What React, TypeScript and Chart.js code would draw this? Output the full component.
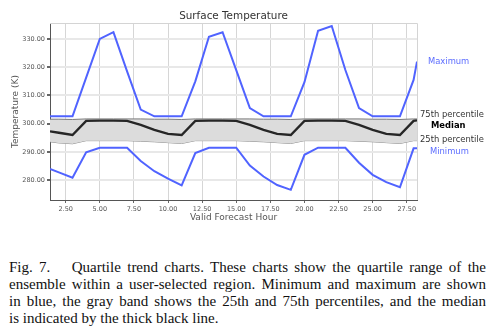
import React, { useEffect, useRef } from "react";
import { Chart, registerables } from "chart.js";
Chart.register(...registerables);

const hours = [1.35, 2, 3, 4, 5, 6, 7, 8, 9, 10, 11, 12, 13, 14, 15, 16, 17, 18, 19, 20, 21, 22, 23, 24, 25, 26, 27, 28, 28.25];
const maxT = [302.6, 302.6, 302.6, 316.3, 330.0, 332.4, 318.5, 305.0, 302.6, 302.6, 302.6, 315.0, 330.8, 332.4, 319.0, 305.5, 302.6, 302.6, 302.6, 314.7, 332.9, 334.6, 319.0, 305.5, 302.6, 302.6, 302.6, 315.5, 322.0];
const p75 = [301.6, 301.6, 301.5, 301.7, 301.7, 301.7, 301.7, 301.7, 301.6, 301.6, 301.5, 301.7, 301.7, 301.7, 301.7, 301.7, 301.6, 301.6, 301.5, 301.7, 301.7, 301.7, 301.7, 301.7, 301.6, 301.6, 301.5, 301.7, 301.7];
const median = [297.3, 296.8, 296.0, 301.0, 301.1, 301.1, 301.0, 299.6, 297.8, 296.4, 296.0, 301.0, 301.1, 301.1, 301.0, 299.6, 297.8, 296.4, 296.0, 301.0, 301.1, 301.1, 301.0, 299.6, 297.8, 296.4, 296.0, 301.0, 301.2];
const p25 = [293.6, 293.2, 292.9, 294.0, 294.0, 294.0, 294.0, 293.8, 293.6, 293.3, 293.0, 294.0, 294.0, 294.0, 294.0, 293.8, 293.6, 293.3, 293.0, 294.0, 294.0, 294.0, 294.0, 293.8, 293.6, 293.3, 293.0, 294.0, 294.0];
const minT = [284.0, 282.8, 280.9, 289.9, 291.5, 291.5, 291.5, 286.8, 283.2, 280.6, 278.2, 289.6, 291.5, 291.5, 291.5, 285.2, 281.3, 278.3, 276.6, 289.0, 291.5, 291.5, 291.5, 286.2, 281.9, 279.3, 277.5, 291.3, 291.3];

const xTicks = [2.5, 5, 7.5, 10, 12.5, 15, 17.5, 20, 22.5, 25, 27.5];
const yTicks = [280, 290, 300, 310, 320, 330];

const chartTitle = "Surface Temperature";
const xTitle = "Valid Forecast Hour";
const yTitle = "Temperature (K)";
const captionLines = [
  "Quartile trend charts. These charts show the quartile range of the",
  "ensemble within a user-selected region. Minimum and maximum are shown",
  "in blue, the gray band shows the 25th and 75th percentiles, and the median",
  "is indicated by the thick black line.",
];

const FONT = "DejaVu Sans";
const BLUE = "#5063ff";

export default function App() {
  const ref = useRef<HTMLCanvasElement>(null);

  useEffect(() => {
    const pts = (arr: number[]) => hours.map((h, i) => ({ x: h, y: arr[i] }));

    const endLabels = [
      { text: "Maximum", data: maxT, color: "#5b6cff", bold: false, x: 428, dy: 0.5 },
      { text: "75th percentile", data: p75, color: "#333", bold: false, x: 420, dy: -4 },
      { text: "Median", data: median, color: "#000", bold: true, x: 431, dy: 5.5 },
      { text: "25th percentile", data: p25, color: "#333", bold: false, x: 420, dy: -0.5 },
      { text: "Minimum", data: minT, color: "#5b6cff", bold: false, x: 430, dy: 3.5 },
    ];

    const overlay = {
      id: "overlay",
      beforeDatasetsDraw(chart: any) {
        const { ctx, chartArea: a } = chart;
        ctx.save();
        ctx.strokeStyle = "#d4d4d4";
        ctx.lineWidth = 1;
        ctx.beginPath();
        ctx.moveTo(a.left, a.top + 0.5);
        ctx.lineTo(a.right + 0.5, a.top + 0.5);
        ctx.lineTo(a.right + 0.5, a.bottom);
        ctx.stroke();
        ctx.restore();
      },
      afterDraw(chart: any) {
        const { ctx, chartArea: a, scales } = chart;
        const cx = (a.left + a.right) / 2;
        ctx.save();
        ctx.textBaseline = "middle";
        ctx.textAlign = "center";
        ctx.fillStyle = "#333";
        ctx.font = `10.4px "${FONT}"`;
        ctx.fillText(chartTitle, cx, 16);
        ctx.fillStyle = "#555";
        ctx.font = `9px "${FONT}"`;
        ctx.fillText(xTitle, cx, 218);
        ctx.save();
        ctx.translate(16, (a.top + a.bottom) / 2);
        ctx.rotate(-Math.PI / 2);
        ctx.fillText(yTitle, 0, 0);
        ctx.restore();
        ctx.textAlign = "left";
        for (const l of endLabels) {
          const y = scales.y.getPixelForValue(l.data[l.data.length - 1]) + l.dy;
          ctx.fillStyle = l.color;
          ctx.font = `${l.bold ? "bold " : ""}8.4px "${FONT}"`;
          ctx.fillText(l.text, l.x, y);
        }
        ctx.restore();
      },
    };

    const chart = new Chart(ref.current as HTMLCanvasElement, {
      type: "line",
      data: {
        datasets: [
          { label: "Median", data: pts(median), borderColor: "#262626", borderWidth: 2.4, pointRadius: 0, fill: false, tension: 0 },
          { label: "75th percentile", data: pts(p75), borderColor: "#7a7a7a", borderWidth: 1, backgroundColor: "#dcdcdc", pointRadius: 0, fill: "+1" },
          { label: "25th percentile", data: pts(p25), borderColor: "#8a8a8a", borderWidth: 1, pointRadius: 0, fill: false },
          { label: "Maximum", data: pts(maxT), borderColor: BLUE, borderWidth: 2, pointRadius: 0, fill: false },
          { label: "Minimum", data: pts(minT), borderColor: BLUE, borderWidth: 2, pointRadius: 0, fill: false },
        ],
      },
      options: {
        animation: false,
        responsive: false,
        devicePixelRatio: 1,
        layout: { padding: { left: 0, right: 79, top: 23, bottom: 0 } },
        plugins: { legend: { display: false }, title: { display: false }, tooltip: { enabled: false } },
        scales: {
          x: {
            type: "linear",
            min: 1.35,
            max: 28.25,
            afterBuildTicks: (s: any) => { s.ticks = xTicks.map((v) => ({ value: v })); },
            afterFit: (s: any) => { s.height = 28; },
            ticks: { color: "#555", font: { family: FONT, size: 6.5 }, padding: 2, maxRotation: 0, autoSkip: false, callback: (v: any) => Number(v).toFixed(2) },
            grid: { color: "#d6d6d6", lineWidth: 1, tickLength: 3, tickColor: "#666" },
            border: { color: "#555", width: 1 },
          },
          y: {
            type: "linear",
            min: 273,
            max: 335.65,
            afterBuildTicks: (s: any) => { s.ticks = yTicks.map((v) => ({ value: v })); },
            afterFit: (s: any) => { s.width = 50; },
            ticks: { color: "#555", font: { family: FONT, size: 6.5 }, padding: 2, autoSkip: false, callback: (v: any) => Number(v).toFixed(2) },
            grid: { color: "#e8e8e8", lineWidth: 2, tickLength: 3, tickColor: "#666" },
            border: { color: "#555", width: 1 },
          },
        },
      },
      plugins: [overlay],
    } as any);
    return () => chart.destroy();
  }, []);

  const lineStyle: React.CSSProperties = {
    textAlign: "justify",
    textAlignLast: "justify",
    whiteSpace: "nowrap",
    height: 17,
  };

  return (
    <div style={{ position: "fixed", left: 0, top: 0, width: 496, height: 334, background: "#fff", overflow: "hidden" }}>
      <canvas ref={ref} width={496} height={228} style={{ position: "absolute", left: 0, top: 0, display: "block" }} />
      <div
        style={{
          position: "absolute",
          left: 9,
          top: 259,
          width: 477,
          fontFamily: '"Liberation Serif", "Times New Roman", serif',
          fontSize: 15,
          lineHeight: "17px",
          color: "#111",
        }}
      >
        {captionLines.map((t, i) => (
          <div key={i} style={i === captionLines.length - 1 ? { height: 17, whiteSpace: "nowrap" } : lineStyle}>
            {i === 0 ? (
              <>
                Fig. 7.{"\u2003"} {t}
              </>
            ) : (
              t
            )}
          </div>
        ))}
      </div>
    </div>
  );
}
